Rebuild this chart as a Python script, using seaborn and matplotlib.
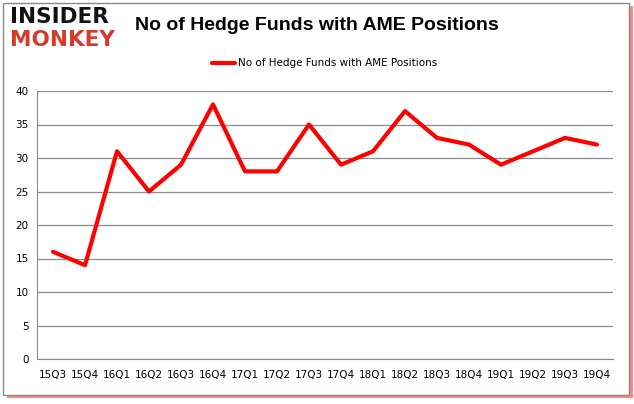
import matplotlib
matplotlib.use('Agg')
import matplotlib.pyplot as plt
import numpy as np
import pandas as pd
import seaborn as sns
from matplotlib.patches import Rectangle

quarters = ['15Q3', '15Q4', '16Q1', '16Q2', '16Q3', '16Q4', '17Q1', '17Q2', '17Q3',
            '17Q4', '18Q1', '18Q2', '18Q3', '18Q4', '19Q1', '19Q2', '19Q3', '19Q4']
funds = [16, 14, 31, 25, 29, 38, 28, 28, 35, 29, 31, 37, 33, 32, 29, 31, 33, 32]
series_name = 'No of Hedge Funds with AME Positions'

df = pd.DataFrame({'pos': np.arange(len(quarters)), 'funds': funds})

sns.set_style('white')
plt.rcParams['font.family'] = ['DejaVu Sans']

fig = plt.figure(figsize=(6.34, 4.04), dpi=100)
ax = fig.add_axes([37 / 634, 1 - 359 / 404, 576 / 634, 268 / 404])

# outer frame with red shadow
fig.patches.append(Rectangle((7 / 634, 1 - 398 / 404), 626 / 634, 392 / 404,
                             transform=fig.transFigure, facecolor='#ff2020',
                             edgecolor='none', alpha=0.55, zorder=-3))
fig.patches.append(Rectangle((3 / 634, 1 - 395 / 404), 626 / 634, 392 / 404,
                             transform=fig.transFigure, facecolor='white',
                             edgecolor='#888888', linewidth=1.0, zorder=-2))

sns.lineplot(data=df, x='pos', y='funds', ax=ax, color='#ff0000', linewidth=3,
             label=series_name)

ax.set_xlim(-0.5, len(quarters) - 0.5)
ax.set_ylim(0, 40)
ax.set_yticks(range(0, 41, 5))
ax.set_xticks(range(len(quarters)))
ax.set_xticklabels(quarters, fontsize=7.5, color='black')
ax.set_xticks(np.arange(-0.5, len(quarters), 1), minor=True)
ax.tick_params(axis='x', which='major', length=0, pad=8)
ax.tick_params(axis='x', which='minor', length=4, color='#888888')
ax.tick_params(axis='y', length=4, color='#888888', labelsize=7.5, pad=2,
               labelcolor='black')
ax.yaxis.grid(True, color='#8c8c8c', linewidth=0.9)
ax.set_xlabel('')
ax.set_ylabel('')
for s in ['top', 'right']:
    ax.spines[s].set_visible(False)
for s in ['left', 'bottom']:
    ax.spines[s].set_color('#888888')
ax.set_facecolor('none')

leg = ax.legend(loc='lower center', bbox_to_anchor=(0.5, 1.05), frameon=False,
                fontsize=7.5, handlelength=2.2, handletextpad=0.3)
for t in leg.get_texts():
    t.set_color('black')

fig.text(0.5, 1 - 26 / 404, 'No of Hedge Funds with AME Positions', ha='center',
         va='center', fontsize=14, fontweight='bold', family='Liberation Sans',
         color='black')
fig.text(10 / 634, 1 - 17 / 404, 'INSIDER', ha='left', va='center', fontsize=15.5,
         fontweight='heavy', color='#111111')
fig.text(10 / 634, 1 - 40 / 404, 'MONKEY', ha='left', va='center', fontsize=15.5,
         fontweight='heavy', color='#d43b2a')

fig.savefig('out.png', dpi=100)
